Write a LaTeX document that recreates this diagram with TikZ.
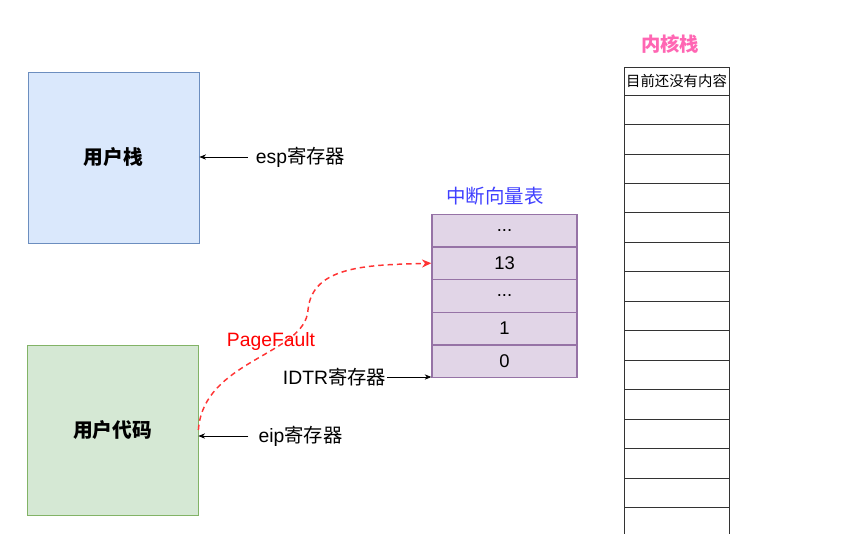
\documentclass[tikz,border=0pt]{standalone}
\usepackage{fontspec}
\setmainfont{Liberation Sans}
\newfontfamily\cjk{Noto Sans CJK SC}
\usetikzlibrary{arrows.meta}
\definecolor{usfill}{HTML}{DAE8FC}\definecolor{usdraw}{HTML}{6C8EBF}
\definecolor{ucfill}{HTML}{D5E8D4}\definecolor{ucdraw}{HTML}{82B366}
\definecolor{vtfill}{HTML}{E1D5E7}\definecolor{vtdraw}{HTML}{9673A6}
\definecolor{titleblue}{HTML}{3F3FFF}
\definecolor{titlepink}{HTML}{FF66B3}
\definecolor{pfred}{HTML}{FF3333}
\definecolor{cellline}{HTML}{333333}
\tikzset{
  bigbox/.style={draw, line width=0.6pt, inner sep=0pt, minimum width=128.25pt, minimum height=128.25pt, font=\fontsize{14.8pt}{17pt}\selectfont\cjk\bfseries},
  vtcell/.style={draw=vtdraw, fill=vtfill, line width=1pt, inner sep=0pt, minimum width=108.75pt, minimum height=24.5pt, font=\fontsize{13.8pt}{16pt}\selectfont},
  kcell/.style={draw=cellline, line width=0.6pt, inner sep=0pt, minimum width=78.75pt, minimum height=22.1pt},
  lbl/.style={inner sep=0pt, font=\fontsize{14.5pt}{17pt}\selectfont},
  ptr/.style={-{Stealth[length=5pt,width=4pt]}, line width=0.5pt},
}
\begin{document}
\begin{tikzpicture}[x=0.75pt, y=-0.75pt]
\useasboundingbox (0,0) rectangle (841,533);
% user stack and user code
\node[bigbox, draw=usdraw, fill=usfill] (us) at (113.5,157.5) {用户栈};
\node[bigbox, draw=ucdraw, fill=ucfill, minimum height=127.5pt] (uc) at (112.5,430) {用户代码};
% vector table
\node[lbl, text=titleblue, font=\fontsize{14.6pt}{17pt}\selectfont\cjk] (vttitle) at (495,196) {中断向量表};
\node[vtcell] (v4) at (504.5,230.5) {...};
\node[vtcell] (v3) at (504.5,263.2) {13};
\node[vtcell] (v2) at (504.5,295.9) {...};
\node[vtcell] (v1) at (504.5,328.6) {1};
\node[vtcell] (v0) at (504.5,361.3) {0};
% kernel stack
\node[lbl, text=titlepink, font=\fontsize{14.5pt}{17pt}\selectfont\cjk\bfseries] (ktitle) at (670,44) {内核栈};
\node[kcell, minimum height=21pt, font=\fontsize{10.8pt}{12pt}\selectfont\cjk] (k0) at (676.5,81) {目前还没有内容};
\foreach \i in {1,...,15} {
  \node[kcell] (k\i) at (676.5,{95+29.47*(\i-0.5)}) {};
}
% labels
\node[lbl] (esp) at (300.5,157) {esp{\cjk 寄存器}};
\node[lbl] (eip) at (300.5,436) {eip{\cjk 寄存器}};
\node[lbl] (idtr) at (334.5,377) {IDTR{\cjk 寄存器}};
\node[lbl, text=red] (pf) at (271,341) {PageFault};
% arrows
\draw[ptr] (esp.west) ++(-8,0) coordinate (espa) -- (espa -| us.east);
\draw[ptr] (eip.west) ++(-10,0) coordinate (eipa) -- (eipa -| uc.east);
\draw[ptr] (idtr.east) ++(1,0) coordinate (idtra) -- (idtra -| v0.west);
\draw[pfred, dashed, line width=1.1pt, dash pattern=on 4pt off 3pt, -{Stealth[length=7pt,width=6pt]}]
  (uc.east) .. controls (203,360) and (305,355) .. (308,310)
  .. controls (312,265) and (370,265) .. (v3.west);
\end{tikzpicture}
\end{document}
